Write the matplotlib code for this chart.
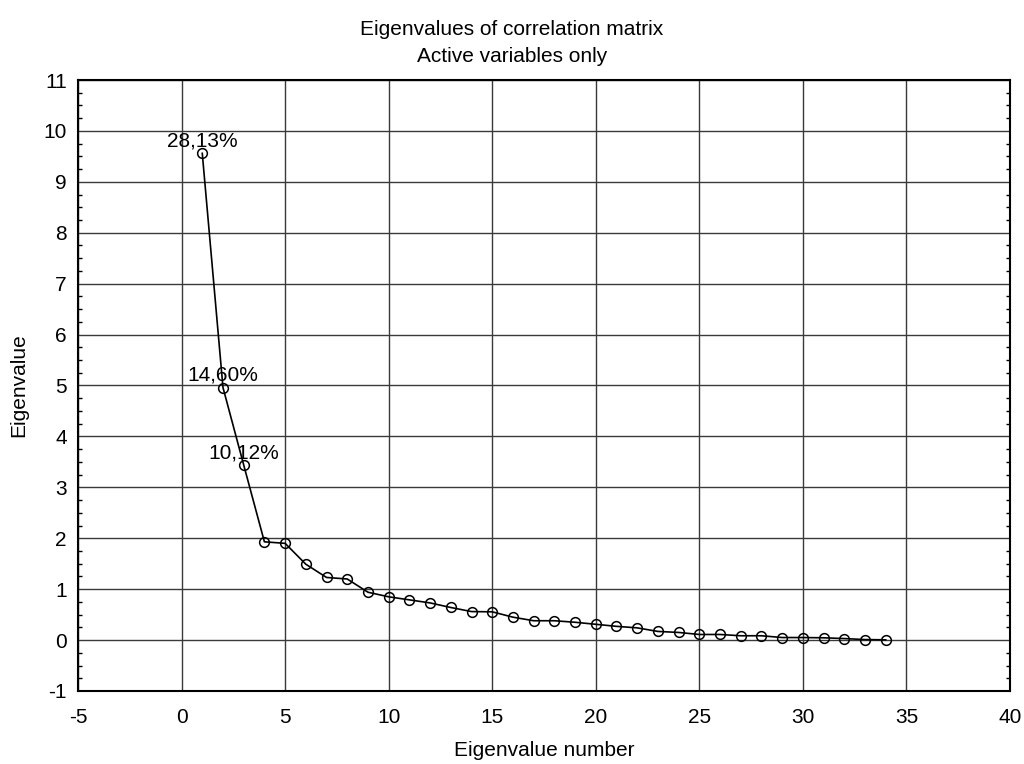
import matplotlib
matplotlib.use("Agg")
import matplotlib.pyplot as plt
from matplotlib.ticker import MultipleLocator, AutoMinorLocator

plt.rcParams['font.family'] = ['Liberation Sans', 'DejaVu Sans']
plt.rcParams['axes.unicode_minus'] = False

eigen_number = list(range(1, 35))
eigenvalues = [9.56, 4.96, 3.44, 1.93, 1.90, 1.49, 1.23, 1.20, 0.94, 0.85,
               0.79, 0.73, 0.64, 0.56, 0.555, 0.45, 0.38, 0.38, 0.35, 0.31,
               0.27, 0.24, 0.17, 0.15, 0.11, 0.11, 0.085, 0.085, 0.05, 0.05,
               0.045, 0.03, 0.01, 0.005]
annotated_idx = [0, 1, 2]
annotations = ["28,13%", "14,60%", "10,12%"]

title_text = "Eigenvalues of correlation matrix\nActive variables only"
x_label = "Eigenvalue number"
y_label = "Eigenvalue"

FS = 15

fig = plt.figure(figsize=(10.24, 7.64), dpi=100)
ax = fig.add_axes([78/1024, 1 - 691/764, (1010-78)/1024, (691-80)/764])

ax.plot(eigen_number, eigenvalues, color='black', lw=1.2, marker='o',
        markersize=7, markerfacecolor='none', markeredgecolor='black',
        markeredgewidth=1.1, zorder=3)

for i, txt in zip(annotated_idx, annotations):
    ax.annotate(txt, (eigen_number[i], eigenvalues[i]), xytext=(0, 2),
                textcoords='offset points', ha='center', va='bottom',
                fontsize=FS, zorder=4)

ax.set_xlim(-5, 40)
ax.set_ylim(-1, 11)
ax.xaxis.set_major_locator(MultipleLocator(5))
ax.yaxis.set_major_locator(MultipleLocator(1))
ax.yaxis.set_minor_locator(AutoMinorLocator(4))

ax.grid(True, which='major', color='#3a3a3a', lw=1.0)
ax.set_axisbelow(True)

ax.tick_params(axis='both', which='major', direction='in', length=0,
               labelsize=FS)
ax.tick_params(axis='x', pad=12)
ax.tick_params(axis='y', pad=8)
ax.tick_params(axis='y', which='minor', direction='in', length=3,
               left=True, right=True, width=1.0)
for s in ax.spines.values():
    s.set_linewidth(1.5)
    s.set_color('black')

ax.set_xlabel(x_label, fontsize=FS, labelpad=10)
ax.set_ylabel(y_label, fontsize=FS, labelpad=11)

fig.text(0.5, 1 - 20/764, title_text, ha='center', va='top', fontsize=FS,
         linespacing=1.5)

fig.savefig("out.png", dpi=100)
